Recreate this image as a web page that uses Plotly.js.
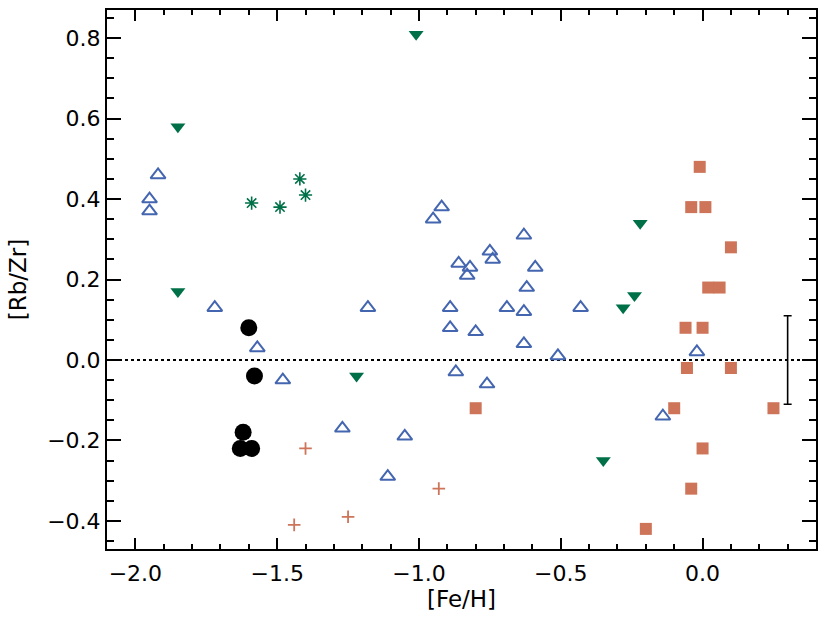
<!DOCTYPE html>
<html>
<head>
<meta charset="utf-8">
<script src="https://cdn.plot.ly/plotly-3.0.1.min.js"></script>
<style>html,body{margin:0;padding:0;background:#fff;}#chart{width:830px;height:623px;}</style>
</head>
<body>
<div id="chart"></div>
<script>
// Open blue triangles
const triX = [-1.92,-1.95,-1.95,-1.72,-1.57,-1.48,-0.92,-0.95,-0.63,-0.75,-0.74,-0.86,-0.82,-0.83,-0.59,-0.62,-1.18,-0.89,-0.69,-0.63,-0.89,-0.80,-0.63,-0.51,-0.87,-0.76,-0.43,-0.02,-0.14,-1.27,-1.05,-1.11];
const triY = [0.46,0.40,0.37,0.13,0.03,-0.05,0.38,0.35,0.31,0.27,0.25,0.24,0.23,0.21,0.23,0.18,0.13,0.13,0.13,0.12,0.08,0.07,0.04,0.01,-0.03,-0.06,0.13,0.02,-0.14,-0.17,-0.19,-0.29];
// Green filled down triangles
const dnX = [-1.01,-1.85,-1.85,-1.22,-0.22,-0.24,-0.28,-0.35];
const dnY = [0.81,0.58,0.17,-0.04,0.34,0.16,0.13,-0.25];
// Green asterisks
const astX = [-1.59,-1.49,-1.42,-1.40];
const astY = [0.39,0.38,0.45,0.41];
// Black filled circles
const dotX = [-1.60,-1.58,-1.62,-1.63,-1.59];
const dotY = [0.08,-0.04,-0.18,-0.22,-0.22];
// Orange plus signs
const plusX = [-1.40,-1.44,-1.25,-0.93];
const plusY = [-0.22,-0.41,-0.39,-0.32];
// Orange squares
const sqX = [-0.01,-0.04,0.01,0.10,0.02,0.06,-0.06,0.00,-0.055,0.10,-0.10,0.25,-0.80,0.00,-0.04,-0.20];
const sqY = [0.48,0.38,0.38,0.28,0.18,0.18,0.08,0.08,-0.02,-0.02,-0.12,-0.12,-0.12,-0.22,-0.32,-0.42];
// Typical error bar
const errX = [0.3];
const errY = [0.0];
const errSize = [0.11];

const xTicks = [-2.0,-1.5,-1.0,-0.5,0.0];
const xTickText = ['\u22122.0','\u22121.5','\u22121.0','\u22120.5','0.0'];
const yTicks = [-0.4,-0.2,0.0,0.2,0.4,0.6,0.8];
const yTickText = ['\u22120.4','\u22120.2','0.0','0.2','0.4','0.6','0.8'];

const BLUE = '#4466B0', GREEN = '#007048', ORANGE = '#CD7459';

const traces = [
  {x: triX, y: triY, mode: 'markers', type: 'scatter',
   marker: {symbol: 'triangle-up-open', size: 13, color: BLUE, line: {color: BLUE, width: 2}}},
  {x: dnX, y: dnY, mode: 'markers', type: 'scatter',
   marker: {symbol: 'triangle-down', size: 13, color: GREEN, line: {width: 0}}},
  {x: astX, y: astY, mode: 'markers', type: 'scatter',
   marker: {symbol: 'asterisk-open', size: 11, color: GREEN, line: {color: GREEN, width: 1.6}}},
  {x: plusX, y: plusY, mode: 'markers', type: 'scatter',
   marker: {symbol: 'cross-thin-open', size: 9, color: ORANGE, line: {color: ORANGE, width: 1.8}}},
  {x: sqX, y: sqY, mode: 'markers', type: 'scatter',
   marker: {symbol: 'square', size: 12, color: ORANGE, line: {width: 0}}},
  {x: dotX, y: dotY, mode: 'markers', type: 'scatter',
   marker: {symbol: 'circle', size: 17, color: '#000000', line: {width: 0}}},
  {x: errX, y: errY, mode: 'markers', type: 'scatter',
   marker: {size: 1, color: 'rgba(0,0,0,0)'},
   error_y: {type: 'data', array: errSize, visible: true, color: '#000000', thickness: 1.6, width: 4}}
];

const tickFont = {family: 'DejaVu Sans, sans-serif', size: 22, color: '#000'};
const titleFont = {family: 'DejaVu Sans, sans-serif', size: 23, color: '#000'};

const layout = {
  width: 830, height: 623,
  margin: {l: 107, r: 14, t: 10, b: 74},
  paper_bgcolor: '#fff', plot_bgcolor: '#fff',
  showlegend: false,
  font: tickFont,
  xaxis: {
    range: [-2.1, 0.4], showgrid: false, zeroline: false,
    tickmode: 'array', tickvals: xTicks, ticktext: xTickText,
    ticks: 'inside', ticklen: 11, tickwidth: 2, tickcolor: '#000',
    minor: {dtick: 0.1, tick0: 0, ticks: 'inside', ticklen: 5, tickwidth: 2, tickcolor: '#000', showgrid: false},
    showline: true, linecolor: '#000', linewidth: 2, mirror: 'allticks',
    tickfont: tickFont, ticklabelstandoff: 4,
    title: {text: '[Fe/H]', font: titleFont, standoff: 4}
  },
  yaxis: {
    range: [-0.47, 0.87], showgrid: false, zeroline: false,
    tickmode: 'array', tickvals: yTicks, ticktext: yTickText,
    ticks: 'inside', ticklen: 14, tickwidth: 2, tickcolor: '#000',
    minor: {dtick: 0.05, tick0: 0, ticks: 'inside', ticklen: 7, tickwidth: 2, tickcolor: '#000', showgrid: false},
    showline: true, linecolor: '#000', linewidth: 2, mirror: 'allticks',
    tickfont: tickFont,
    title: {text: '[Rb/Zr]', font: titleFont, standoff: 14}
  },
  shapes: [
    {type: 'line', xref: 'paper', x0: 0, x1: 1, yref: 'y', y0: 0, y1: 0,
     line: {color: '#000', width: 2, dash: 'dot'}, layer: 'below'}
  ]
};

Plotly.newPlot('chart', traces, layout, {displayModeBar: false, staticPlot: true});
</script>
</body>
</html>
